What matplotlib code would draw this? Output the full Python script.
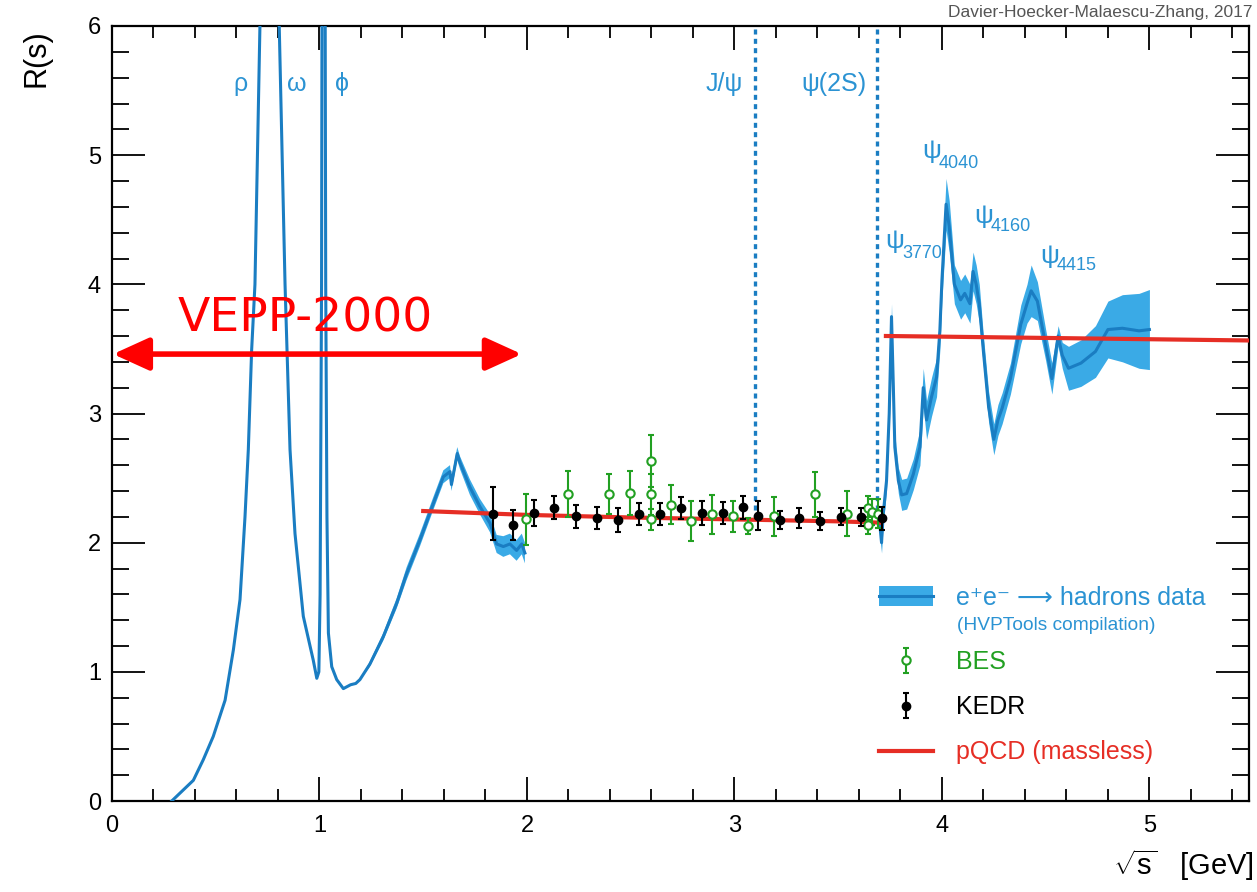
import matplotlib
matplotlib.use("Agg")
import matplotlib.pyplot as plt
from matplotlib.patches import Patch
from matplotlib.lines import Line2D
import numpy as np

plt.rcParams['font.family'] = ['Liberation Sans', 'DejaVu Sans']
plt.rcParams['mathtext.fontset'] = 'custom'
plt.rcParams['mathtext.rm'] = 'Liberation Sans'
plt.rcParams['mathtext.it'] = 'Liberation Sans:italic'

# ---------------- data ----------------
# e+e- -> hadrons compilation, low-energy part (sqrt(s) in GeV, R, band half-width)
x_low = [0.288, 0.34, 0.392, 0.44, 0.488, 0.545, 0.585, 0.617, 0.641, 0.657, 0.673, 0.689,
         0.713, 0.74, 0.765, 0.775, 0.782, 0.79, 0.806, 0.834, 0.858, 0.882, 0.922, 0.97,
         0.987, 0.997, 1.003, 1.010, 1.015, 1.019, 1.024, 1.030, 1.036, 1.043, 1.059, 1.083,
         1.115, 1.15, 1.175, 1.195, 1.243, 1.307, 1.372, 1.42, 1.484, 1.548, 1.597, 1.629,
         1.636, 1.664, 1.677, 1.725, 1.773, 1.822, 1.854, 1.886, 1.918, 1.95, 1.975, 1.99]
r_low = [0.0, 0.08, 0.16, 0.32, 0.50, 0.78, 1.17, 1.56, 2.20, 2.72, 3.49, 4.0,
         6.0, 9.0, 12.0, 13.0, 15.0, 10.0, 6.0, 4.0, 2.72, 2.07, 1.43, 1.09,
         0.95, 1.0, 1.6, 4.0, 9.0, 20.0, 9.0, 4.0, 2.2, 1.30, 1.04, 0.94,
         0.87, 0.90, 0.91, 0.94, 1.06, 1.27, 1.53, 1.76, 2.02, 2.30, 2.51, 2.55,
         2.45, 2.69, 2.62, 2.43, 2.28, 2.15, 1.99, 1.97, 1.99, 1.94, 1.99, 1.92]
e_low = [0.005] * 40 + [0.02, 0.03, 0.04, 0.05, 0.05, 0.05, 0.05, 0.05,
                        0.05, 0.05, 0.05, 0.06, 0.06, 0.07, 0.07, 0.08, 0.08, 0.08, 0.08, 0.08]

# high-energy part (charm region)
x_high = [3.70, 3.709, 3.717, 3.733, 3.746, 3.757, 3.765, 3.773, 3.79, 3.806, 3.83, 3.862,
          3.894, 3.91, 3.926, 3.95, 3.974, 3.99, 4.00, 4.02, 4.035, 4.06, 4.09, 4.11,
          4.135, 4.15, 4.165, 4.18, 4.20, 4.225, 4.25, 4.27, 4.29, 4.33, 4.38, 4.41,
          4.43, 4.46, 4.50, 4.53, 4.56, 4.58, 4.61, 4.67, 4.74, 4.80, 4.87, 4.95, 5.0]
r_high = [2.15, 2.0, 2.22, 2.48, 3.0, 3.75, 3.26, 2.74, 2.48, 2.37, 2.38, 2.53,
          2.74, 3.2, 2.95, 3.13, 3.28, 3.64, 4.03, 4.62, 4.45, 4.0, 3.88, 3.93,
          3.85, 4.1, 4.0, 3.85, 3.48, 3.05, 2.8, 2.95, 3.04, 3.27, 3.69, 3.85,
          3.95, 3.87, 3.53, 3.27, 3.60, 3.45, 3.35, 3.39, 3.48, 3.65, 3.66, 3.64, 3.65]
e_high = [0.10, 0.08, 0.08, 0.08, 0.08, 0.10, 0.10, 0.10, 0.10, 0.12, 0.12, 0.12,
          0.14, 0.15, 0.15, 0.15, 0.15, 0.15, 0.15, 0.20, 0.20, 0.15, 0.15, 0.15,
          0.15, 0.15, 0.15, 0.15, 0.12, 0.12, 0.12, 0.12, 0.12, 0.12, 0.15, 0.15,
          0.20, 0.15, 0.12, 0.12, 0.08, 0.10, 0.17, 0.18, 0.20, 0.22, 0.26, 0.29, 0.31]

# KEDR
kedr_x = [1.838, 1.934, 2.034, 2.13, 2.236, 2.336, 2.44, 2.538, 2.64, 2.74, 2.843, 2.943,
          3.043, 3.115, 3.22, 3.31, 3.41, 3.513, 3.61, 3.709]
kedr_r = [2.225, 2.14, 2.23, 2.27, 2.205, 2.19, 2.175, 2.22, 2.22, 2.265, 2.23, 2.23,
          2.275, 2.21, 2.175, 2.19, 2.17, 2.20, 2.20, 2.19]
kedr_e = [0.206, 0.116, 0.10, 0.09, 0.09, 0.085, 0.09, 0.085, 0.085, 0.085, 0.09, 0.085,
          0.09, 0.115, 0.07, 0.075, 0.07, 0.065, 0.07, 0.09]

# BES
bes_x = [1.995, 2.2, 2.395, 2.496, 2.596, 2.596, 2.596, 2.694, 2.793, 2.894, 2.994, 3.063,
         3.19, 3.39, 3.544, 3.645, 3.645, 3.661, 3.69]
bes_r = [2.18, 2.375, 2.375, 2.385, 2.63, 2.375, 2.18, 2.295, 2.17, 2.22, 2.205, 2.13,
         2.205, 2.375, 2.225, 2.27, 2.135, 2.24, 2.225]
bes_e = [0.20, 0.18, 0.155, 0.17, 0.20, 0.16, 0.08, 0.15, 0.155, 0.15, 0.12, 0.06,
         0.15, 0.175, 0.175, 0.095, 0.065, 0.10, 0.115]

# pQCD (massless)
pqcd_x_low = [1.5, 2.0, 2.5, 3.0, 3.5, 3.7]
pqcd_r_low = [2.245, 2.215, 2.195, 2.18, 2.165, 2.155]
pqcd_x_high = [3.73, 4.0, 4.5, 5.0, 5.5]
pqcd_r_high = [3.60, 3.595, 3.585, 3.575, 3.565]

# narrow charmonium resonances (dotted lines)
res_names = ['J/ψ', 'ψ(2S)']
res_mass = [3.097, 3.686]

# ---------------- style ----------------
BAND = '#3aaae6'
LINE = '#1a7dc2'
LABEL_BLUE = '#2b93d3'
RED = '#e62e25'
GREEN = '#22a022'

W, H = 1257, 892
fig = plt.figure(figsize=(W / 100, H / 100), dpi=100)
L, R_, T, B = 112, 1249, 26, 801
ax = fig.add_axes([L / W, 1 - B / H, (R_ - L) / W, (B - T) / H])


def axc(px, py):
    return ((px - L) / (R_ - L), (B - py) / (B - T))


ax.set_xlim(0, 5.48)
ax.set_ylim(0, 6)

# hadronic data band + central line
for xs, rs, es in [(x_low, r_low, e_low), (x_high, r_high, e_high)]:
    xs = np.array(xs); rs = np.array(rs); es = np.array(es)
    ax.fill_between(xs, rs - es, rs + es, color=BAND, lw=0, zorder=2)
    ax.plot(xs, rs, color=LINE, lw=2.2, zorder=3)

# dotted resonance lines
for m in res_mass:
    ax.plot([m, m], [2.25, 6.0], color=LINE, lw=2.4, ls=(0, (1.5, 1.3)), zorder=1)

# pQCD
ax.plot(pqcd_x_low, pqcd_r_low, color=RED, lw=3.0, zorder=4)
pq_line, = ax.plot(pqcd_x_high, pqcd_r_high, color=RED, lw=3.0, zorder=4)

# BES and KEDR
bes = ax.errorbar(bes_x, bes_r, yerr=bes_e, fmt='o', mfc='white', mec=GREEN, ms=6, mew=1.5,
                  ecolor=GREEN, elinewidth=1.5, capsize=2.5, capthick=1.5, zorder=5)
kedr = ax.errorbar(kedr_x, kedr_r, yerr=kedr_e, fmt='o', color='black', ms=6,
                   ecolor='black', elinewidth=1.5, capsize=2.5, capthick=1.5, zorder=6)

# axes styling
ax.set_xticks(np.arange(0, 6, 1))
ax.set_xticks(np.arange(0, 5.5, 0.2), minor=True)
ax.set_yticks(np.arange(0, 7, 1))
ax.set_yticks(np.arange(0, 6.01, 0.2), minor=True)
for s in ax.spines.values():
    s.set_linewidth(1.6)
ax.tick_params(axis='both', which='both', direction='in', top=True, right=True, width=1.3,
               labelsize=17)
ax.tick_params(axis='x', which='major', length=17, pad=10)
ax.tick_params(axis='x', which='minor', length=8.5)
ax.tick_params(axis='y', which='major', length=24, pad=8)
ax.tick_params(axis='y', which='minor', length=12)

ax.text(-0.066, 0.959, 'R(s)', transform=ax.transAxes, rotation=90, fontsize=22,
        ha='center', va='center')
ax.text(1.004, -0.083, r'$\sqrt{\mathrm{s}}$   [GeV]', transform=ax.transAxes, fontsize=21,
        ha='right', va='center')
fig.text(1252 / W, 1 - 12.5 / H, 'Davier-Hoecker-Malaescu-Zhang, 2017', fontsize=12.5,
         color='#555555', ha='right', va='center')

# resonance labels
for lab, xx in [('ρ', 0.62), ('ω', 0.89), ('ϕ', 1.11)]:
    ax.text(xx, 5.55, lab, color=LABEL_BLUE, fontsize=18, ha='center', va='center')
for lab, xx in zip(res_names, [2.95, 3.48]):
    ax.text(xx, 5.55, lab, color=LABEL_BLUE, fontsize=18, ha='center', va='center')
for sub, (xp, yp, xs_, ys_) in [('3770', (3.725, 4.334, 3.807, 4.238)),
                                ('4040', (3.904, 5.031, 3.986, 4.934)),
                                ('4160', (4.154, 4.528, 4.236, 4.447)),
                                ('4415', (4.475, 4.218, 4.554, 4.149))]:
    ax.text(xp, yp, 'ψ', color=LABEL_BLUE, fontsize=19, ha='left', va='center')
    ax.text(xs_, ys_, sub, color=LABEL_BLUE, fontsize=13, ha='left', va='center')

# VEPP-2000 annotation
ax.annotate('', xy=(0.005, 3.46), xytext=(1.975, 3.46),
            arrowprops=dict(arrowstyle='<|-|>,head_length=1.1,head_width=0.5', lw=4,
                            color='#ff0000', shrinkA=0, shrinkB=0, mutation_scale=20))
ax.text(*axc(178, 331.7), 'VEPP-2000', transform=ax.transAxes, color='#ff0000',
        fontsize=34, family='DejaVu Sans', ha='left', va='baseline')

# legends
band_h = (Patch(facecolor=BAND, edgecolor='none'), Line2D([], [], color=LINE, lw=2.2))
leg1 = ax.legend([band_h], ['e⁺e⁻ ⟶ hadrons data'], loc='upper left',
                 bbox_to_anchor=axc(879, 586), frameon=False, fontsize=18,
                 handlelength=2.15, handleheight=0.85, handletextpad=0.95,
                 borderpad=0, borderaxespad=0)
leg1.get_texts()[0].set_color(LABEL_BLUE)
ax.add_artist(leg1)
ax.text(*axc(957, 626), '(HVPTools compilation)', transform=ax.transAxes, fontsize=13.8,
        color=LABEL_BLUE, ha='left', va='center')

leg2 = ax.legend([bes, kedr, pq_line], ['BES', 'KEDR', 'pQCD (massless)'], loc='upper left',
                 bbox_to_anchor=axc(879, 650), frameon=False, fontsize=18,
                 handlelength=2.15, handletextpad=0.95, labelspacing=0.85,
                 borderpad=0, borderaxespad=0)
for t, c in zip(leg2.get_texts(), [GREEN, 'black', RED]):
    t.set_color(c)

fig.savefig('out.png', dpi=100)
